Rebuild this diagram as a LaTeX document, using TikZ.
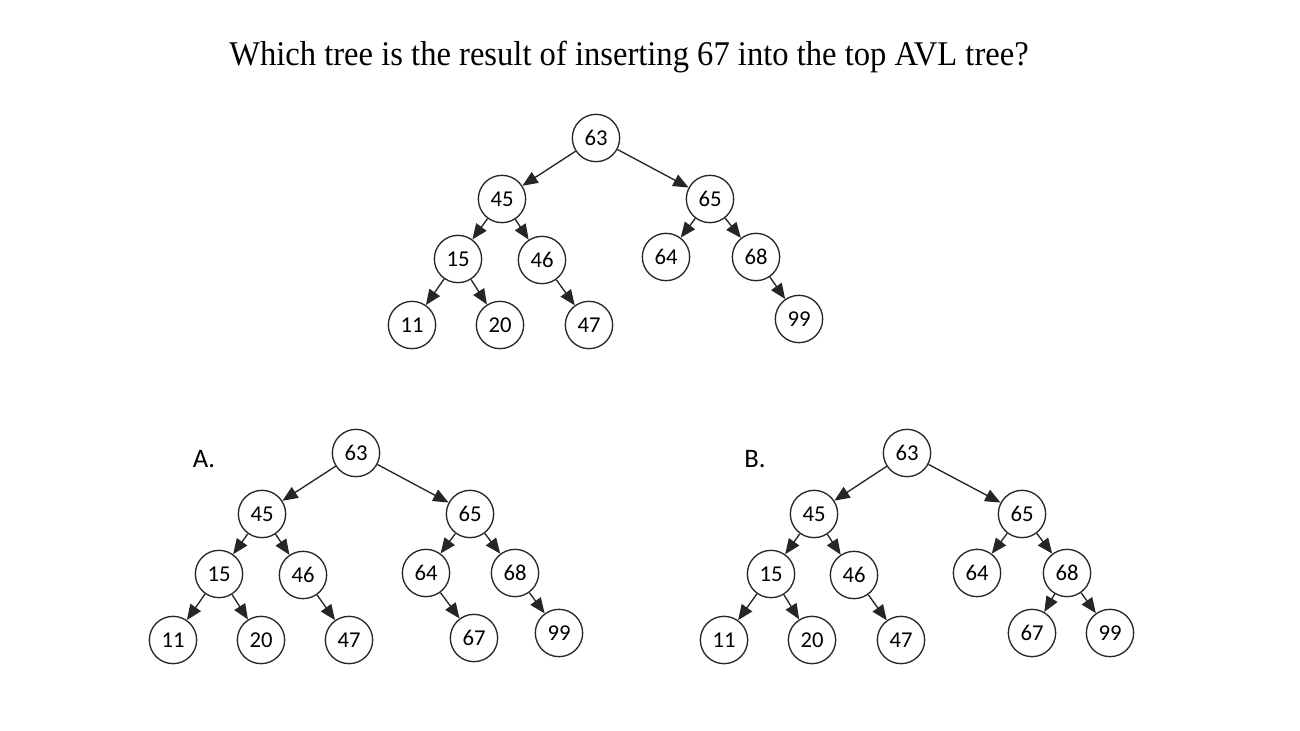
\documentclass[tikz,border=0pt]{standalone}
\usepackage{fontspec}
\setmainfont{Liberation Serif}
\newfontfamily\nodefont{Carlito}
\usetikzlibrary{arrows.meta}
\begin{document}
\begin{tikzpicture}[x=0.75pt,y=-0.75pt,
  tn/.style={circle,draw=black!85,line width=1pt,minimum size=35.5pt,inner sep=0pt,font=\nodefont\fontsize{17}{19}\selectfont},
  edge/.style={draw=black!85,line width=1pt,-{Triangle[length=11.5pt,width=9.5pt]}},
  lbl/.style={font=\nodefont\fontsize{20}{23}\selectfont}]
\useasboundingbox[fill=white] (0,0) rectangle (1300,731);
\node[font=\fontsize{26}{30}\selectfont] (title) at (629,57) {\scalebox{0.94}[1]{Which tree is the result of inserting 67 into the top AVL tree?}};
% top tree
\node[tn] (t63) at (596,138) {63};
\node[tn] (t45) at (502,199) {45};
\node[tn] (t65) at (710,199) {65};
\node[tn] (t15) at (458,259) {15};
\node[tn] (t46) at (542,260) {46};
\node[tn] (t64) at (666,257) {64};
\node[tn] (t68) at (756,257) {68};
\node[tn] (t11) at (412,325) {11};
\node[tn] (t20) at (500,325) {20};
\node[tn] (t47) at (589,325) {47};
\node[tn] (t99) at (799,319) {99};
\draw[edge] (t63) -- (t45);
\draw[edge] (t63) -- (t65);
\draw[edge] (t45) -- (t15);
\draw[edge] (t45) -- (t46);
\draw[edge] (t65) -- (t64);
\draw[edge] (t65) -- (t68);
\draw[edge] (t15) -- (t11);
\draw[edge] (t15) -- (t20);
\draw[edge] (t46) -- (t47);
\draw[edge] (t68) -- (t99);
% tree A
\node[lbl] (la) at (204,459) {A.};
\node[tn] (a63) at (356,453) {63};
\node[tn] (a45) at (262,514) {45};
\node[tn] (a65) at (470,514) {65};
\node[tn] (a15) at (219,574) {15};
\node[tn] (a46) at (303,575) {46};
\node[tn] (a64) at (426,573) {64};
\node[tn] (a68) at (515,573) {68};
\node[tn] (a11) at (173,640) {11};
\node[tn] (a20) at (261,640) {20};
\node[tn] (a47) at (349,640) {47};
\node[tn] (a67) at (474,638) {67};
\node[tn] (a99) at (559,633) {99};
\draw[edge] (a63) -- (a45);
\draw[edge] (a63) -- (a65);
\draw[edge] (a45) -- (a15);
\draw[edge] (a45) -- (a46);
\draw[edge] (a65) -- (a64);
\draw[edge] (a65) -- (a68);
\draw[edge] (a15) -- (a11);
\draw[edge] (a15) -- (a20);
\draw[edge] (a46) -- (a47);
\draw[edge] (a64) -- (a67);
\draw[edge] (a68) -- (a99);
% tree B
\node[lbl] (lb) at (755,459) {B.};
\node[tn] (b63) at (907,453) {63};
\node[tn] (b45) at (814,514) {45};
\node[tn] (b65) at (1022,514) {65};
\node[tn] (b15) at (771,574) {15};
\node[tn] (b46) at (854,575) {46};
\node[tn] (b64) at (977,573) {64};
\node[tn] (b68) at (1067,573) {68};
\node[tn] (b11) at (724,640) {11};
\node[tn] (b20) at (812,640) {20};
\node[tn] (b47) at (901,640) {47};
\node[tn] (b67) at (1032,633) {67};
\node[tn] (b99) at (1110,633) {99};
\draw[edge] (b63) -- (b45);
\draw[edge] (b63) -- (b65);
\draw[edge] (b45) -- (b15);
\draw[edge] (b45) -- (b46);
\draw[edge] (b65) -- (b64);
\draw[edge] (b65) -- (b68);
\draw[edge] (b15) -- (b11);
\draw[edge] (b15) -- (b20);
\draw[edge] (b46) -- (b47);
\draw[edge] (b68) -- (b67);
\draw[edge] (b68) -- (b99);
\end{tikzpicture}
\end{document}
